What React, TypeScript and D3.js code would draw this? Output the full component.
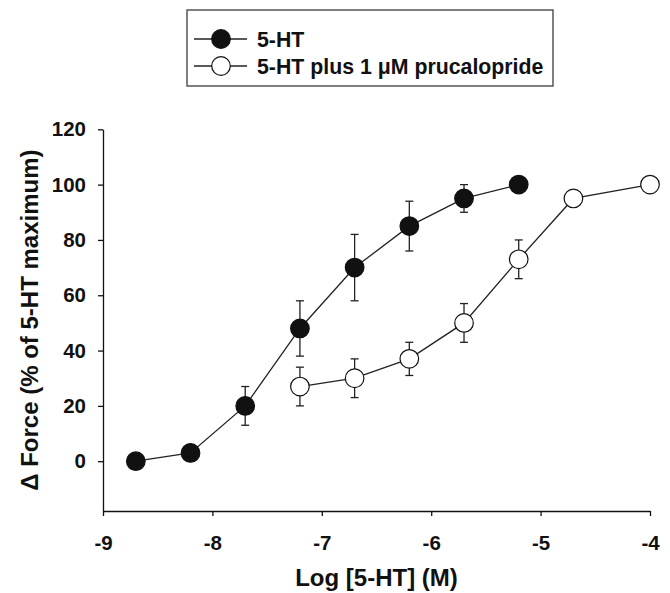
import React, { useEffect, useRef } from "react";
import * as d3 from "d3";

// values
const logConc5HT = [-8.7, -8.2, -7.7, -7.2, -6.7, -6.2, -5.7, -5.2];
const force5HT = [0, 3, 20, 48, 70, 85, 95, 100];
const sem5HT = [0, 0, 7, 10, 12, 9, 5, 0];

const logConcPru = [-7.2, -6.7, -6.2, -5.7, -5.2, -4.7, -4.0];
const forcePru = [27, 30, 37, 50, 73, 95, 100];
const semPru = [7, 7, 6, 7, 7, 0, 0];

const xTicks = [-9, -8, -7, -6, -5, -4];
const yTicks = [0, 20, 40, 60, 80, 100, 120];

const legendLabels = ["5-HT", "5-HT plus 1 \u03bcM prucalopride"];

const FONT = "'Liberation Sans', Arial, Helvetica, sans-serif";

type Pt = { x: number; y: number; e: number };

export default function App() {
  const ref = useRef<SVGSVGElement | null>(null);

  useEffect(() => {
    const svg = d3.select(ref.current);
    svg.selectAll("*").remove();

    const x = d3.scaleLinear().domain([-9, -4]).range([103, 650]);
    const y = d3.scaleLinear().domain([-18, 120]).range([511, 129.3]);

    // axes
    const yAxis = svg
      .append("g")
      .attr("transform", `translate(${x(-9)},0)`)
      .call(
        d3.axisLeft(y).tickValues(yTicks).tickSize(5).tickSizeOuter(0).tickPadding(12)
      );
    const xAxis = svg
      .append("g")
      .attr("transform", `translate(0,${y(-18)})`)
      .call(
        d3
          .axisBottom(x)
          .tickValues(xTicks)
          .tickSize(5)
          .tickSizeOuter(0)
          .tickPadding(19)
          .tickFormat(d3.format("d"))
      );
    [xAxis, yAxis].forEach((g) => {
      g.selectAll("path,line").attr("stroke", "#111").attr("stroke-width", 1.3);
      g.selectAll("text")
        .attr("font-family", FONT)
        .attr("font-weight", "bold")
        .attr("font-size", 20.5)
        .attr("fill", "#111");
    });
    xAxis.selectAll("text").text((d: any) => (d < 0 ? "-" + Math.abs(d) : String(d)));

    // axis titles
    svg
      .append("text")
      .attr("x", (x(-9) + x(-4)) / 2)
      .attr("y", 586)
      .attr("text-anchor", "middle")
      .attr("font-family", FONT)
      .attr("font-weight", "bold")
      .attr("font-size", 24)
      .attr("fill", "#111")
      .text("Log [5-HT] (M)");
    svg
      .append("text")
      .attr("transform", `translate(38,${(y(-18) + y(120)) / 2}) rotate(-90)`)
      .attr("text-anchor", "middle")
      .attr("font-family", FONT)
      .attr("font-weight", "bold")
      .attr("font-size", 24)
      .attr("fill", "#111")
      .text("\u0394 Force (% of 5-HT maximum)");

    const series = [
      {
        pts: logConc5HT.map((v, i) => ({ x: v, y: force5HT[i], e: sem5HT[i] })),
        fill: "#111",
      },
      {
        pts: logConcPru.map((v, i) => ({ x: v, y: forcePru[i], e: semPru[i] })),
        fill: "#fff",
      },
    ];

    const line = d3
      .line<Pt>()
      .x((d) => x(d.x))
      .y((d) => y(d.y));

    series.forEach((s) => {
      const g = svg.append("g");
      g.append("path")
        .attr("d", line(s.pts))
        .attr("fill", "none")
        .attr("stroke", "#222")
        .attr("stroke-width", 1.3);

      const bars = s.pts.filter((d) => d.e > 0);
      g.selectAll(".err")
        .data(bars)
        .join("line")
        .attr("x1", (d) => x(d.x))
        .attr("x2", (d) => x(d.x))
        .attr("y1", (d) => y(d.y - d.e))
        .attr("y2", (d) => y(d.y + d.e))
        .attr("stroke", "#222")
        .attr("stroke-width", 1.3);
      g.selectAll(".capTop")
        .data(bars)
        .join("line")
        .attr("x1", (d) => x(d.x) - 4)
        .attr("x2", (d) => x(d.x) + 4)
        .attr("y1", (d) => y(d.y + d.e))
        .attr("y2", (d) => y(d.y + d.e))
        .attr("stroke", "#222")
        .attr("stroke-width", 1.3);
      g.selectAll(".capBot")
        .data(bars)
        .join("line")
        .attr("x1", (d) => x(d.x) - 4)
        .attr("x2", (d) => x(d.x) + 4)
        .attr("y1", (d) => y(d.y - d.e))
        .attr("y2", (d) => y(d.y - d.e))
        .attr("stroke", "#222")
        .attr("stroke-width", 1.3);

      g.selectAll("circle")
        .data(s.pts)
        .join("circle")
        .attr("cx", (d) => x(d.x))
        .attr("cy", (d) => y(d.y))
        .attr("r", 9.3)
        .attr("fill", s.fill)
        .attr("stroke", "#111")
        .attr("stroke-width", 1.2);
    });

    // legend
    const lg = svg.append("g");
    lg.append("rect")
      .attr("x", 187)
      .attr("y", 10)
      .attr("width", 366)
      .attr("height", 76)
      .attr("fill", "#fff")
      .attr("stroke", "#555")
      .attr("stroke-width", 1.5);
    legendLabels.forEach((lab, i) => {
      const cy = 39 + i * 27;
      lg.append("line")
        .attr("x1", 194)
        .attr("x2", 247)
        .attr("y1", cy)
        .attr("y2", cy)
        .attr("stroke", "#222")
        .attr("stroke-width", 1.3);
      lg.append("circle")
        .attr("cx", 221)
        .attr("cy", cy)
        .attr("r", 9.3)
        .attr("fill", series[i].fill)
        .attr("stroke", "#111")
        .attr("stroke-width", 1.2);
      lg.append("text")
        .attr("x", 257)
        .attr("y", cy + 7.5)
        .attr("font-family", FONT)
        .attr("font-weight", "bold")
        .attr("font-size", 21.3)
        .attr("fill", "#111")
        .text(lab);
    });
  }, []);

  return (
    <div style={{ position: "absolute", left: 0, top: 0 }}>
      <svg ref={ref} width={670} height={593} style={{ display: "block", background: "#fff" }} />
    </div>
  );
}
